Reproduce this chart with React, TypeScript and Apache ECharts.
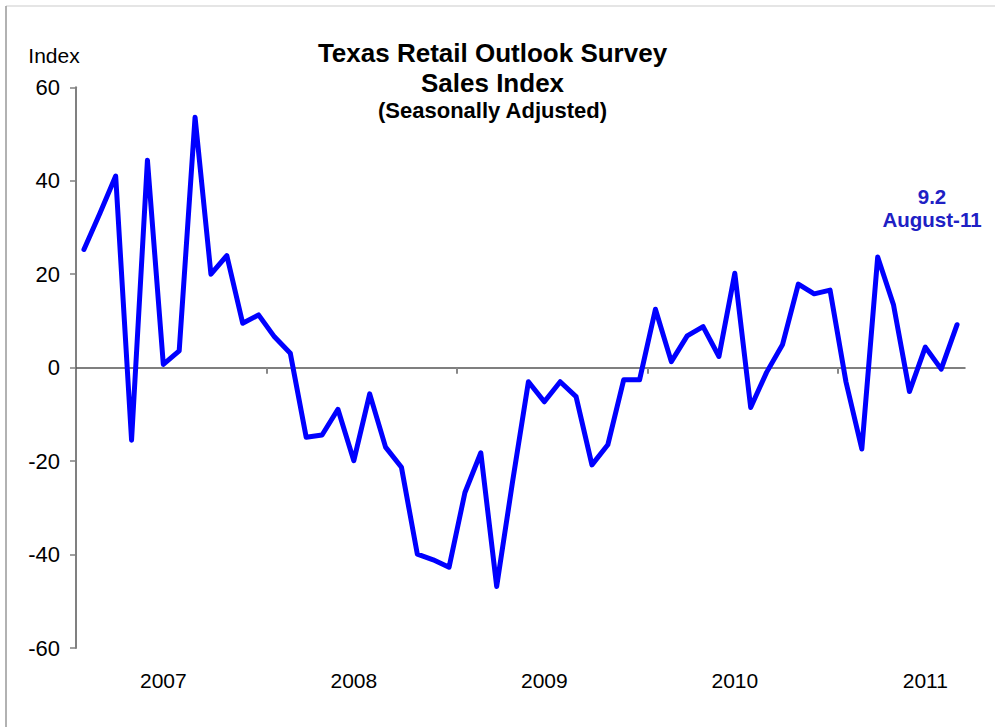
import React, { useEffect, useRef } from "react";
import * as echarts from "echarts";

const years = ["2007", "2008", "2009", "2010", "2011"];
const monthNames = ["Jan", "Feb", "Mar", "Apr", "May", "Jun", "Jul", "Aug", "Sep", "Oct", "Nov", "Dec"];

const values2007 = [25.3, 33, 41, -15.5, 44.4, 0.7, 3.6, 53.6, 20, 24, 9.5, 11.3];
const values2008 = [6.6, 3.1, -14.9, -14.4, -8.9, -19.9, -5.6, -17.0, -21.3, -39.9, -41.1, -42.7];
const values2009 = [-26.7, -18.2, -46.8, -24.4, -3.0, -7.3, -3.0, -6.2, -20.8, -16.5, -2.6, -2.6];
const values2010 = [12.5, 1.3, 6.8, 8.8, 2.4, 20.2, -8.5, -1.0, 4.9, 17.9, 15.8, 16.6];
const values2011 = [-3.0, -17.4, 23.7, 13.4, -5.1, 4.4, -0.3, 9.2];

const yTicks = { min: -60, max: 60, interval: 20 };
const yearBoundaryTicks = [12, 24, 36, 48];
const titleLines = ["Texas Retail Outlook Survey", "Sales Index", "(Seasonally Adjusted)"];
const yAxisTitle = "Index";
const lastLabel = "August-11";

const FONT = "Liberation Sans, Arial, sans-serif";

export default function App() {
  const ref = useRef<HTMLDivElement>(null);

  useEffect(() => {
    document.body.style.margin = "0";
    if (!ref.current) return;
    const chart = echarts.init(ref.current, undefined, { renderer: "svg" });

    const values = [...values2007, ...values2008, ...values2009, ...values2010, ...values2011];
    const categories: string[] = [];
    const yearOf: string[] = [];
    for (let i = 0; i < values.length; i++) {
      const y = years[Math.floor(i / 12)];
      categories.push(monthNames[i % 12] + "-" + y.slice(2));
      yearOf.push(y);
    }
    const last = values[values.length - 1];

    chart.setOption({
      animation: false,
      backgroundColor: "#ffffff",
      grid: { left: 76, top: 87.3, width: 889, height: 560.8, containLabel: false },
      xAxis: [
        {
          type: "category",
          data: categories,
          position: "bottom",
          boundaryGap: true,
          axisLine: { show: false, onZero: false },
          axisTick: { show: false },
          splitLine: { show: false },
          axisLabel: {
            interval: (idx: number) => idx % 12 === 5,
            formatter: (_v: string, idx: number) => yearOf[idx],
            fontSize: 21,
            fontFamily: FONT,
            color: "#000",
            margin: 22,
          },
        },
        {
          type: "value",
          min: 0,
          max: values.length,
          interval: 12,
          position: "bottom",
          axisLine: { show: true, onZero: true, lineStyle: { color: "#555", width: 1.5 } },
          axisTick: {
            show: true,
            customValues: yearBoundaryTicks,
            length: 6,
            lineStyle: { color: "#888", width: 2 },
          },
          axisLabel: { show: false },
          splitLine: { show: false },
        },
      ],
      yAxis: {
        type: "value",
        min: yTicks.min,
        max: yTicks.max,
        interval: yTicks.interval,
        axisLine: { show: true, onZero: false, lineStyle: { color: "#808080", width: 2 } },
        axisTick: { show: true, length: 6, lineStyle: { color: "#808080", width: 1.5 } },
        splitLine: { show: false },
        axisLabel: { fontSize: 22, fontFamily: FONT, color: "#000", margin: 16 },
      },
      series: [
        {
          type: "line",
          data: values,
          xAxisIndex: 0,
          yAxisIndex: 0,
          symbol: "none",
          lineStyle: { color: "#0000ff", width: 5, join: "round", cap: "round" },
          itemStyle: { color: "#0000ff" },
          z: 5,
        },
      ],
      graphic: [
        { type: "line", shape: { x1: 6, y1: 6, x2: 995, y2: 6 }, style: { stroke: "#dddddd", lineWidth: 1.5 } },
        { type: "line", shape: { x1: 6, y1: 6, x2: 6, y2: 727 }, style: { stroke: "#999999", lineWidth: 1.5 } },
        {
          type: "text",
          x: 492.5,
          y: 53,
          style: { text: titleLines[0], fontSize: 26, fontWeight: "bold", fontFamily: FONT, fill: "#000", textAlign: "center", textVerticalAlign: "middle" },
        },
        {
          type: "text",
          x: 492.5,
          y: 83,
          style: { text: titleLines[1], fontSize: 26, fontWeight: "bold", fontFamily: FONT, fill: "#000", textAlign: "center", textVerticalAlign: "middle" },
        },
        {
          type: "text",
          x: 492.5,
          y: 110,
          style: { text: titleLines[2], fontSize: 22, fontWeight: "bold", fontFamily: FONT, fill: "#000", textAlign: "center", textVerticalAlign: "middle" },
        },
        {
          type: "text",
          x: 54,
          y: 55,
          style: { text: yAxisTitle, fontSize: 21, fontFamily: FONT, fill: "#000", textAlign: "center", textVerticalAlign: "middle" },
        },
        {
          type: "text",
          x: 932,
          y: 196.5,
          style: { text: String(last), fontSize: 20.5, fontWeight: "bold", fontFamily: FONT, fill: "#2020c4", textAlign: "center", textVerticalAlign: "middle" },
        },
        {
          type: "text",
          x: 932,
          y: 219.8,
          style: { text: lastLabel, fontSize: 20.5, fontWeight: "bold", fontFamily: FONT, fill: "#2020c4", textAlign: "center", textVerticalAlign: "middle" },
        },
      ],
    });

    return () => chart.dispose();
  }, []);

  return <div ref={ref} style={{ width: 995, height: 727 }} />;
}
